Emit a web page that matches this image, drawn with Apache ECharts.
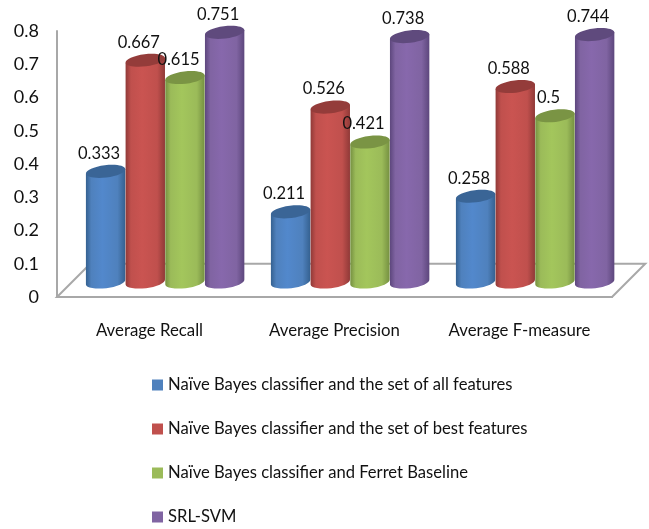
<!DOCTYPE html>
<html>
<head>
<meta charset="utf-8">
<style>html,body{margin:0;padding:0;background:#fff}#chart{width:649px;height:529px}</style>
<script src="https://cdn.jsdelivr.net/npm/echarts@6/dist/echarts.min.js"></script>
</head>
<body>
<div id="chart"></div>
<script>
var categories = ['Average Recall', 'Average Precision', 'Average F-measure'];
var seriesNames = [
  'Naïve Bayes classifier and the set of all features',
  'Naïve Bayes classifier and the set of best features',
  'Naïve Bayes classifier and Ferret Baseline',
  'SRL-SVM'
];
var allFeatures = [0.333, 0.211, 0.258];
var bestFeatures = [0.667, 0.526, 0.588];
var ferretBaseline = [0.615, 0.421, 0.5];
var srlSvm = [0.751, 0.738, 0.744];
var seriesValues = [allFeatures, bestFeatures, ferretBaseline, srlSvm];

// base, bright centre, shaded edge, top cap
var palette = [
  ['#4f81bd', '#5288cc', '#34608f', '#3a6596'],
  ['#c0504d', '#ca5451', '#8f3937', '#943c3a'],
  ['#9bbb59', '#a3c65c', '#748f40', '#7a9444'],
  ['#8064a2', '#8768ac', '#5c467c', '#5f4a7d']
];

var FONT = 'Lato, sans-serif';
var BAR_SHARE = 0.2145;   // share of a category band taken by one cylinder
var TILT = 7;             // degrees the elliptical ends lean

function cylinder(colorIndex) {
  var colors = palette[colorIndex];
  return function (params, api) {
    var value = api.value(1);
    var band = api.size([1, 0])[0];
    var depth = api.size([0, 0.1])[1];
    var width = band * BAR_SHARE;
    var top = api.coord([api.value(0), value]);
    var base = api.coord([api.value(0), 0]);
    var cx = top[0] + (colorIndex - 1.5) * width + depth * 0.47;
    var topY = top[1] - depth * 0.45;
    var baseY = base[1] - depth * 0.45;
    var rx = width / 2;
    var ry = rx * 0.31;
    var rad = TILT * Math.PI / 180;
    var ex = rx * Math.cos(rad);
    var ey = rx * Math.sin(rad);

    var body = [
      'M', cx - ex, topY + ey,
      'L', cx - ex, baseY + ey,
      'A', rx, ry, -TILT, 0, 0, cx + ex, baseY - ey,
      'L', cx + ex, topY - ey,
      'Z'
    ].join(' ');

    return {
      type: 'group',
      children: [
        {
          type: 'path',
          shape: { pathData: body },
          style: {
            fill: new echarts.graphic.LinearGradient(0, 0, 1, 0, [
              { offset: 0, color: colors[2] },
              { offset: 0.14, color: colors[0] },
              { offset: 0.42, color: colors[1] },
              { offset: 0.8, color: colors[0] },
              { offset: 1, color: colors[2] }
            ])
          }
        },
        {
          type: 'ellipse',
          shape: { cx: cx, cy: topY, rx: rx, ry: ry },
          rotation: TILT * Math.PI / 180,
          originX: cx,
          originY: topY,
          style: { fill: colors[3] }
        },
        {
          type: 'text',
          z2: 100,
          style: {
            text: String(value),
            x: cx - 6.5,
            y: topY - 18,
            align: 'center',
            verticalAlign: 'middle',
            fill: '#111',
            font: '16.5px ' + FONT
          }
        }
      ]
    };
  };
}

// Floor of the 3D plot: a parallelogram one tick deep
function floor(params, api) {
  var box = params.coordSys;
  var depth = api.size([0, 0.1])[1];
  var y = box.y + box.height;
  var left = box.x;
  var right = box.x + box.width;
  return {
    type: 'polygon',
    shape: { points: [[left, y], [right, y], [right + depth, y - depth], [left + depth, y - depth]] },
    style: { fill: '#fff', stroke: '#a8a8a8', lineWidth: 2 }
  };
}

var series = [{
  type: 'custom',
  name: 'floor',
  silent: true,
  z: 1,
  renderItem: floor,
  data: [[0, 0]]
}];
seriesValues.forEach(function (values, i) {
  series.push({
    type: 'custom',
    name: seriesNames[i],
    z: 2 + i,
    itemStyle: { color: palette[i][0] },
    renderItem: cylinder(i),
    encode: { x: 0, y: 1 },
    data: values.map(function (v, c) { return [c, v]; })
  });
});

var chart = echarts.init(document.getElementById('chart'), null, { renderer: 'canvas' });
chart.setOption({
  animation: false,
  backgroundColor: '#fff',
  grid: { left: 57, top: 31, width: 555, height: 266, containLabel: false },
  xAxis: {
    type: 'category',
    data: categories,
    axisTick: { show: false },
    axisLine: { lineStyle: { color: '#a8a8a8', width: 2 } },
    axisLabel: { color: '#111', fontFamily: FONT, fontSize: 16.8, margin: 25, interval: 0 }
  },
  yAxis: {
    type: 'value',
    min: 0,
    max: 0.8,
    interval: 0.1,
    splitLine: { show: false },
    axisTick: { show: false },
    axisLine: { show: true, lineStyle: { color: '#a8a8a8', width: 2 } },
    axisLabel: { color: '#111', fontFamily: FONT, fontSize: 18, margin: 18 }
  },
  legend: {
    data: seriesNames,
    orient: 'vertical',
    left: 152,
    top: 375,
    padding: 0,
    itemWidth: 11,
    itemHeight: 11,
    itemGap: 24,
    icon: 'rect',
    textStyle: { color: '#111', fontFamily: FONT, fontSize: 16.6, height: 20, lineHeight: 20 }
  },
  series: series
});
</script>
</body>
</html>
